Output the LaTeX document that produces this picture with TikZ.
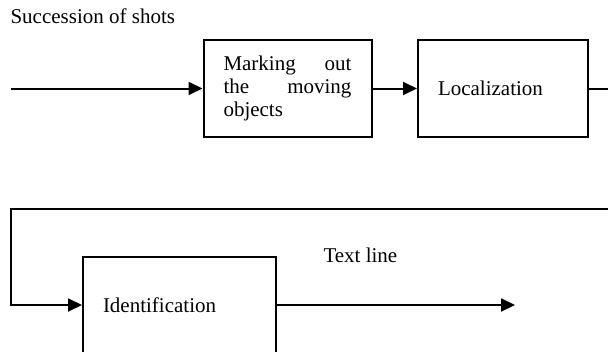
\documentclass[tikz,border=0pt]{standalone}
\usepackage{fontspec}
\setmainfont{Liberation Serif}
\usetikzlibrary{arrows.meta,positioning}
\hyphenpenalty=10000
\tikzset{
  stage/.style={draw, line width=2pt, minimum height=97pt, inner xsep=20pt, align=left},
  flow/.style={-{Triangle[length=14pt,width=13pt]}, line width=2pt}
}

\begin{document}
\begin{tikzpicture}[x=1pt, y=-1pt, font=\fontsize{21}{23}\selectfont]
    \useasboundingbox (0,0) rectangle (608,351);
    \clip (0,0) rectangle (608,351);
    \node[anchor=base west] (shots) at (7,23) {Succession of shots};
    \node[stage, text width=128pt, align=justify] (mark) at (287.5,88.5) {Marking out the moving objects};
    \node[stage, text width=130pt] (loc) at (503,88.5) {Localization};
    \node[stage, text width=153pt] (ident) at (179.5,305) {Identification};
    \node[anchor=base west] (textline) at (320,262) {Text line};
    \coordinate (in) at (11,88.5);
    \coordinate (out) at (515,305);
    \draw[flow] (in) -- (mark);
    \draw[flow] (mark) -- (loc);
    \draw[flow] (loc.east) -- (630,88.5) -- (630,209) -- (11,209) -- (11,305) -- (ident.west);
    \draw[flow] (ident) -- (out);
\end{tikzpicture}
\end{document}
